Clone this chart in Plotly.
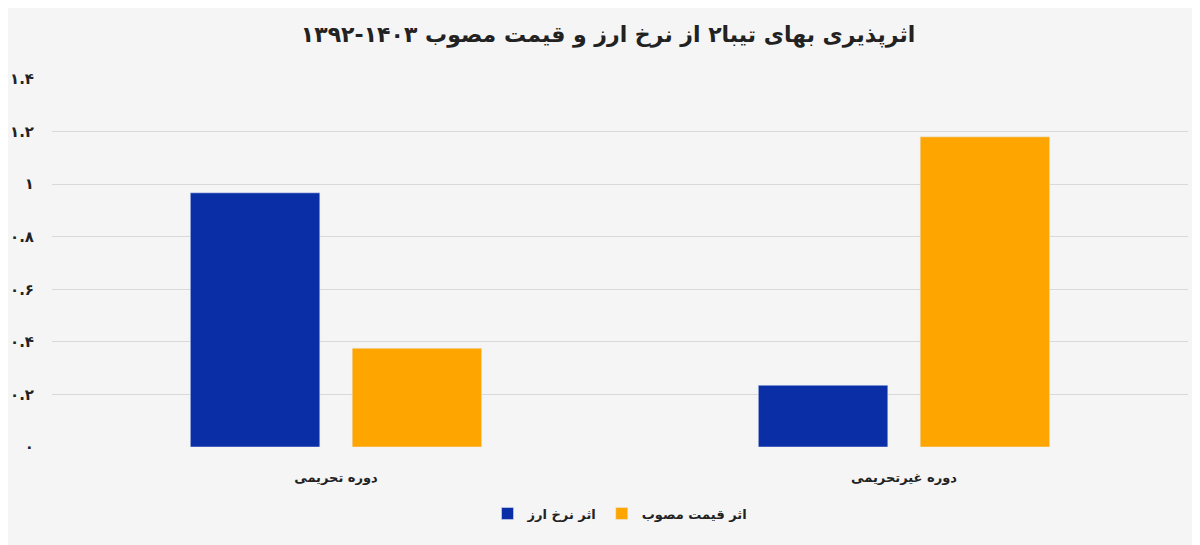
import plotly.graph_objects as go

CATEGORIES = ["دوره تحریمی", "دوره غیرتحریمی"]
FX_EFFECT = [0.967, 0.235]
PRICE_EFFECT = [0.376, 1.18]
TICK_VALS = [0, 0.2, 0.4, 0.6, 0.8, 1, 1.2, 1.4]
TICK_TEXT = ["۰", "۰.۲", "۰.۴", "۰.۶", "۰.۸", "۱", "۱.۲", "۱.۴"]

FONT = "DejaVu Sans"

fig = go.Figure()
fig.add_trace(go.Bar(x=CATEGORIES, y=FX_EFFECT, name="<b>اثر نرخ ارز</b>",
                     marker_color="#0a2ea6", hoverinfo="skip"))
fig.add_trace(go.Bar(x=CATEGORIES, y=PRICE_EFFECT, name="<b>اثر قیمت مصوب</b>",
                     marker_color="#ffa500", hoverinfo="skip"))

fig.update_layout(
    width=1200, height=545,
    paper_bgcolor="#f5f5f5", plot_bgcolor="#f5f5f5",
    font=dict(family=FONT, color="#222", size=13),
    title=dict(text="<b>اثرپذیری بهای تیبا۲ از نرخ ارز و قیمت مصوب ۱۴۰۳-۱۳۹۲</b>",
               x=0.5, xanchor="center", y=0.965, font=dict(size=22, color="#222")),
    barmode="group", bargap=0.43, bargroupgap=0.2,
    xaxis=dict(showgrid=False, showline=False, ticks="outside", ticklen=18,
               tickcolor="rgba(0,0,0,0)",
               tickvals=CATEGORIES, ticktext=[f"<b>{c}</b>" for c in CATEGORIES],
               tickfont=dict(size=13, color="#222")),
    yaxis=dict(range=[0, 1.4], tickvals=TICK_VALS, automargin=False,
               ticktext=[f"<b>{t}</b>" for t in TICK_TEXT],
               gridcolor="#d9d9d9", zeroline=False, ticks="outside", ticklen=14,
               tickcolor="rgba(0,0,0,0)", tickfont=dict(size=15, color="#222")),
    legend=dict(orientation="h", x=0.5, xanchor="center", y=-0.14, yanchor="top",
                font=dict(size=13), traceorder="normal"),
    margin=dict(l=44, r=20, t=71, b=106),
)

fig.write_html("out.html")
